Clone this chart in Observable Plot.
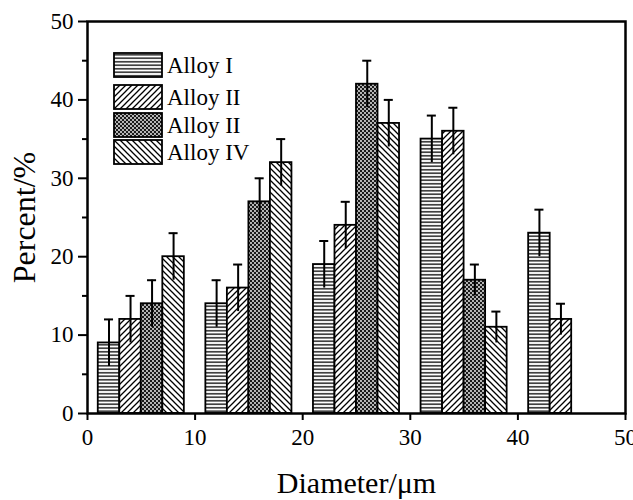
<!DOCTYPE html>
<html>
<head>
<meta charset="utf-8">
<script src="https://cdn.jsdelivr.net/npm/d3@7"></script>
<script src="https://cdn.jsdelivr.net/npm/@observablehq/plot@0.6"></script>
<style>
  body { margin: 0; background: #fff; }
  #chart { position: relative; width: 633px; height: 500px; }
</style>
</head>
<body>
<div id="chart"></div>
<script>
// ---- data ----
const seriesNames = ["Alloy I", "Alloy II", "Alloy II", "Alloy IV"];

const alloyIDiameter = [2, 12, 22, 32, 42];
const alloyIPercent  = [9, 14, 19, 35, 23];
const alloyIError    = [3, 3, 3, 3, 3];

const alloyIIDiameter = [4, 14, 24, 34, 44];
const alloyIIPercent  = [12, 16, 24, 36, 12];
const alloyIIError    = [3, 3, 3, 3, 2];

const alloyIIIDiameter = [6, 16, 26, 36];
const alloyIIIPercent  = [14, 27, 42, 17];
const alloyIIIError    = [3, 3, 3, 2];

const alloyIVDiameter = [8, 18, 28, 38];
const alloyIVPercent  = [20, 32, 37, 11];
const alloyIVError    = [3, 3, 3, 2];

const xTicks = [0, 10, 20, 30, 40, 50];
const yTicks = [0, 10, 20, 30, 40, 50];
const yMinorTicks = [5, 15, 25, 35, 45];

// ---- build tables ----
const barWidth = 2;      // bar width in µm
const capHalf = 0.42;    // half width of error cap in µm
const patternIds = ["pat-h", "pat-f", "pat-x", "pat-b"];

function rows(xs, vs, es) {
  return xs.map((x, i) => ({ x, value: vs[i], err: es[i] }));
}
const seriesRows = [
  rows(alloyIDiameter, alloyIPercent, alloyIError),
  rows(alloyIIDiameter, alloyIIPercent, alloyIIError),
  rows(alloyIIIDiameter, alloyIIIPercent, alloyIIIError),
  rows(alloyIVDiameter, alloyIVPercent, alloyIVError)
];

const marks = [];
seriesRows.forEach((r, i) => {
  marks.push(Plot.rect(r, {
    x1: d => d.x - barWidth / 2,
    x2: d => d.x + barWidth / 2,
    y1: d => 0,
    y2: "value",
    fill: `url(#${patternIds[i]})`,
    stroke: "black",
    strokeWidth: 1.8
  }));
});
seriesRows.forEach((r) => {
  marks.push(Plot.ruleX(r, {
    x: "x",
    y1: d => d.value - d.err,
    y2: d => d.value + d.err,
    stroke: "black",
    strokeWidth: 2
  }));
  marks.push(Plot.ruleY(r, {
    y: d => d.value + d.err,
    x1: d => d.x - capHalf,
    x2: d => d.x + capHalf,
    stroke: "black",
    strokeWidth: 2
  }));
});

marks.push(
  Plot.axisX({ ticks: xTicks, tickSize: 7, tickPadding: 8, label: null, strokeWidth: 2, fontSize: 23 }),
  Plot.axisY({ ticks: yTicks, tickSize: 9, tickPadding: 5, label: null, strokeWidth: 2, fontSize: 23 }),
  Plot.axisY({ ticks: yMinorTicks, tickSize: 5, tickFormat: () => "", label: null, strokeWidth: 2 }),
  Plot.frame({ stroke: "black", strokeWidth: 2.5 }),
  Plot.text(["Diameter/μm"], { frameAnchor: "bottom", dy: 70, textAnchor: "middle", lineAnchor: "middle", fontSize: 30, fill: "black" }),
  Plot.text(["Percent/%"], { frameAnchor: "left", dx: -63, rotate: -90, textAnchor: "middle", lineAnchor: "middle", fontSize: 32, fill: "black" })
);

const svg = Plot.plot({
  width: 633,
  height: 500,
  marginLeft: 87,
  marginRight: 8,
  marginTop: 21,
  marginBottom: 87,
  style: { fontFamily: "'Liberation Serif', 'Times New Roman', serif", fontSize: "23px", color: "black", background: "white" },
  x: { domain: [0, 50] },
  y: { domain: [0, 50] },
  marks
});

// ---- patterns ----
const defs = d3.select(svg).insert("defs", ":first-child");
// horizontal lines
const ph = defs.append("pattern").attr("id", "pat-h").attr("patternUnits", "userSpaceOnUse")
  .attr("width", 8).attr("height", 3.5);
ph.append("rect").attr("width", 8).attr("height", 3.5).attr("fill", "white");
ph.append("line").attr("x1", 0).attr("x2", 8).attr("y1", 1.75).attr("y2", 1.75)
  .attr("stroke", "black").attr("stroke-width", 1.3);
// forward diagonal "/"
const pf = defs.append("pattern").attr("id", "pat-f").attr("patternUnits", "userSpaceOnUse")
  .attr("width", 6).attr("height", 6);
pf.append("rect").attr("width", 6).attr("height", 6).attr("fill", "white");
pf.append("path").attr("d", "M-1,1 l2,-2 M0,6 l6,-6 M5,7 l2,-2")
  .attr("stroke", "black").attr("stroke-width", 1.3);
// backward diagonal "\"
const pb = defs.append("pattern").attr("id", "pat-b").attr("patternUnits", "userSpaceOnUse")
  .attr("width", 6).attr("height", 6);
pb.append("rect").attr("width", 6).attr("height", 6).attr("fill", "white");
pb.append("path").attr("d", "M-1,5 l2,2 M0,0 l6,6 M5,-1 l2,2")
  .attr("stroke", "black").attr("stroke-width", 1.3);
// dense dotted cross-hatch
const px = defs.append("pattern").attr("id", "pat-x").attr("patternUnits", "userSpaceOnUse")
  .attr("width", 4).attr("height", 4);
px.append("rect").attr("width", 4).attr("height", 4).attr("fill", "#1a1a1a");
px.append("circle").attr("cx", 1).attr("cy", 1).attr("r", 0.9).attr("fill", "white");
px.append("circle").attr("cx", 3).attr("cy", 3).attr("r", 0.9).attr("fill", "white");

// ---- legend (inside plot, top-left) ----
const legendTops = [53, 85, 113, 140];
const legend = d3.select(svg).append("g").attr("class", "legend");
seriesNames.forEach((name, i) => {
  const g = legend.append("g").attr("transform", `translate(114,${legendTops[i]})`);
  g.append("rect").attr("width", 48).attr("height", 24)
    .attr("fill", `url(#${patternIds[i]})`).attr("stroke", "black").attr("stroke-width", 1.8);
  g.append("text").attr("x", 53).attr("y", 12).attr("dy", "0.35em")
    .attr("text-anchor", "start")
    .style("font-size", "23px").style("text-anchor", "start")
    .attr("fill", "black").text(name);
});

document.getElementById("chart").appendChild(svg);
</script>
</body>
</html>
